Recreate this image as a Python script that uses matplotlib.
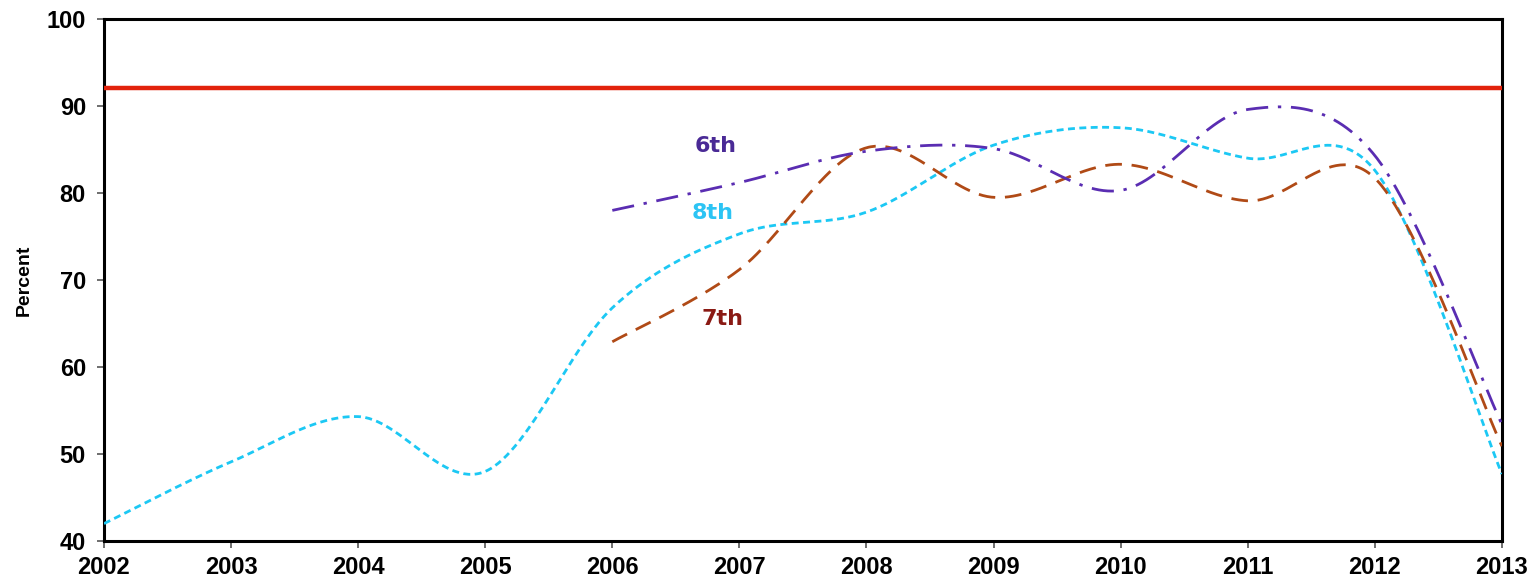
import numpy as np
import matplotlib
matplotlib.use("Agg")
import matplotlib.pyplot as plt

years_8th = [2002, 2003, 2004, 2005, 2006, 2007, 2008, 2009, 2010, 2011, 2012, 2013]
grade8 = [42.0, 49.1, 54.3, 48.0, 66.8, 75.3, 77.8, 85.5, 87.5, 84.0, 82.6, 47.7]

years_67 = [2006, 2007, 2008, 2009, 2010, 2011, 2012, 2013]
grade6 = [78.0, 81.2, 84.8, 85.1, 80.3, 89.6, 84.3, 53.4]
grade7 = [62.9, 71.2, 85.2, 79.5, 83.3, 79.1, 81.7, 50.9]

target = 92.1

def smooth(xs, ys, n=60):
    xs = np.asarray(xs, float); ys = np.asarray(ys, float)
    P = np.column_stack([xs, ys])
    out = []
    for i in range(len(P) - 1):
        p0 = P[i - 1] if i > 0 else P[i]
        p1 = P[i]; p2 = P[i + 1]
        p3 = P[i + 2] if i + 2 < len(P) else P[i + 1]
        c1 = p1 + (p2 - p0) / 6.0
        c2 = p2 - (p3 - p1) / 6.0
        t = np.linspace(0, 1, n)[:, None]
        seg = ((1 - t) ** 3) * p1 + 3 * ((1 - t) ** 2) * t * c1 + 3 * (1 - t) * t ** 2 * c2 + t ** 3 * p2
        out.append(seg if i == 0 else seg[1:])
    s = np.vstack(out)
    return s[:, 0], s[:, 1]

fig = plt.figure(figsize=(15.29, 5.82), dpi=100)
ax = fig.add_axes([0.068, 0.0704, 0.9143, 0.897])

ax.axhline(target, color="#E2220C", lw=3.2, zorder=3)

x, y = smooth(years_8th, grade8)
ax.plot(x, y, color="#1CC8F4", lw=2.0, dashes=(2.5, 1.6), zorder=4)
x, y = smooth(years_67, grade7)
ax.plot(x, y, color="#B04A16", lw=2.0, dashes=(6, 3.5), zorder=4)
x, y = smooth(years_67, grade6)
ax.plot(x, y, color="#5A2DB2", lw=2.0, dashes=(8, 3.5, 1.2, 3.5), zorder=4)

lbl = dict(fontsize=16, fontweight="bold", family="DejaVu Sans", ha="center", va="center")
ax.text(2006.815, 85.4, "6th", color="#4A2A96", **lbl)
ax.text(2006.79, 77.7, "8th", color="#2CC4F4", **lbl)
ax.text(2006.866, 65.5, "7th", color="#8A1A14", **lbl)

ax.set_xlim(2002, 2013)
ax.set_ylim(40, 100)
ax.set_xticks(range(2002, 2014))
ax.set_yticks(range(40, 101, 10))
ax.tick_params(axis="y", direction="out", length=5, width=1.2, color="#555555", pad=8)
ax.tick_params(axis="x", direction="out", length=5, width=1.2, color="#555555", pad=6)
for lab in ax.get_xticklabels() + ax.get_yticklabels():
    lab.set_fontfamily("Liberation Sans")
    lab.set_fontweight("bold")
    lab.set_fontsize(17)
for sp in ax.spines.values():
    sp.set_linewidth(2.2)
    sp.set_color("black")
ax.set_ylabel("Percent", fontsize=14, fontweight="bold", family="Liberation Sans", labelpad=10)

fig.savefig("out.png", dpi=100)
